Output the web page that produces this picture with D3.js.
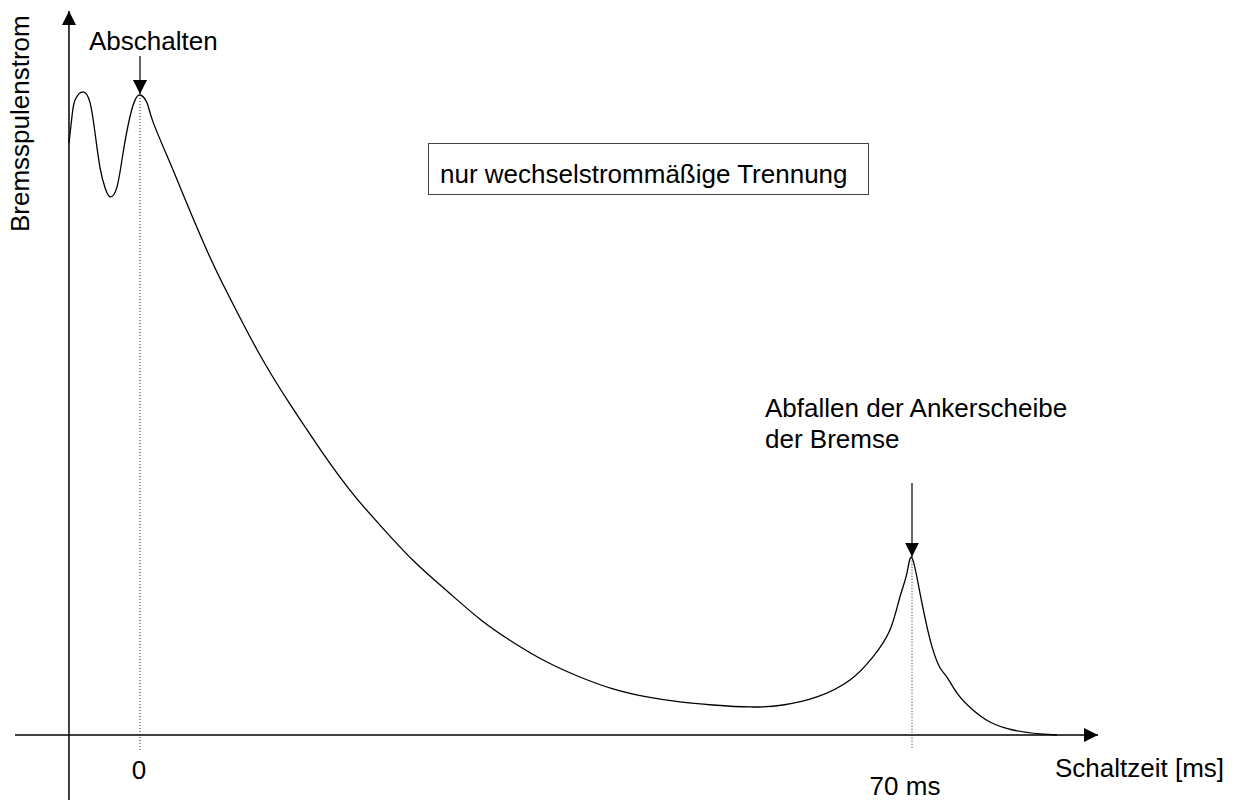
<!DOCTYPE html>
<html>
<head>
<meta charset="utf-8">
<script src="https://cdn.jsdelivr.net/npm/d3@7"></script>
<style>
  html, body { margin: 0; padding: 0; background: #fff; }
  svg { display: block; }
  text { font-family: "Liberation Sans", Arial, sans-serif; font-size: 26px; fill: #000; }
</style>
</head>
<body>
<svg id="chart" width="1234" height="800"></svg>
<script>
// ---- data ----
const timeMs = [-6.44, -6.17, -5.89, -5.17, -4.53, -4.08, -3.63, -3.17, -2.72, -2.09, -1.54, -0.91, -0.45, 0,
  0.63, 1.18, 2.72, 4.08, 6.07, 7.53, 9.07, 10.61, 12.06, 13.60, 15.14, 16.59, 18.13, 19.77, 21.76, 24.75,
  27.84, 30.83, 33.82, 36.90, 39.89, 42.89, 45.97, 48.96, 51.95, 55.31, 58.30, 61.38, 64.38, 66.46, 68.00,
  68.91, 69.54, 70, 70.72, 71.36, 71.90, 72.54, 73.17, 74.08, 75.53, 77.07, 79.15, 81.60, 83.14];
const current = [92.5, 96.6, 99.2, 100.5, 98.8, 94.1, 88.7, 85.5, 84.1, 85.6, 90.9, 96.6, 99.2, 100,
  98.8, 95.8, 89.4, 83.75, 75.7, 70.4, 65.2, 60.2, 55.9, 51.7, 47.7, 44.0, 40.3, 36.7, 32.8, 27.3,
  22.5, 18.1, 14.5, 11.4, 9.06, 7.19, 5.94, 5.16, 4.69, 4.38, 4.69, 5.94, 8.59, 12.2, 16.4,
  21.6, 25.3, 27.7, 22.2, 16.9, 13.3, 10.5, 9.06, 6.56, 3.91, 2.03, 0.78, 0.16, 0];
const tickValues = [0, 70];
const tickLabels = ["0", "70 ms"];
const xAxisTitle = "Schaltzeit [ms]";
const yAxisTitle = "Bremsspulenstrom";
const boxLabel = "nur wechselstrommäßige Trennung";
const markerTimes = [0, 70];
const markerLabels = [["Abschalten"], ["Abfallen der Ankerscheibe", "der Bremse"]];

// ---- layout ----
const svg = d3.select("#chart");
const x = d3.scaleLinear().domain([0, 70]).range([140, 912]);
const y = d3.scaleLinear().domain([0, 100]).range([735, 95]);
const points = timeMs.map((t, i) => ({ t, v: current[i] }));
const valueAt = t => points[timeMs.indexOf(t)].v;

svg.append("defs").append("marker")
  .attr("id", "ah").attr("viewBox", "0 0 10 10").attr("refX", 10).attr("refY", 5)
  .attr("markerWidth", 14).attr("markerHeight", 14).attr("markerUnits", "userSpaceOnUse")
  .attr("orient", "auto")
  .append("path").attr("d", "M0,0 L10,5 L0,10 Z").attr("fill", "#000");

// axes (with arrow heads)
const y0 = y(0), xLeft = x(timeMs[0]);
svg.append("line").attr("x1", 15).attr("y1", y0).attr("x2", 1098).attr("y2", y0)
  .attr("stroke", "#000").attr("stroke-width", 1.5).attr("marker-end", "url(#ah)");
svg.append("line").attr("x1", xLeft).attr("y1", 800).attr("x2", xLeft).attr("y2", 11)
  .attr("stroke", "#000").attr("stroke-width", 1.5).attr("marker-end", "url(#ah)");

// dotted guide lines
const guideBottom = [750, 748];
markerTimes.forEach((t, i) => {
  svg.append("line").attr("x1", x(t)).attr("x2", x(t))
    .attr("y1", y(valueAt(t))).attr("y2", guideBottom[i])
    .attr("stroke", "#222").attr("stroke-width", 1).attr("stroke-dasharray", "1,2");
});

// curve
const line = d3.line().x(d => x(d.t)).y(d => y(d.v)).curve(d3.curveNatural);
svg.append("path").datum(points).attr("d", line)
  .attr("fill", "none").attr("stroke", "#000").attr("stroke-width", 1.3);

// tick labels
const tickBaselines = [779, 795];
const tickDx = [-1, -7];
tickValues.forEach((v, i) => {
  svg.append("text").attr("x", x(v) + tickDx[i]).attr("y", tickBaselines[i])
    .attr("text-anchor", "middle").text(tickLabels[i]);
});

// axis titles
svg.append("text").attr("x", 1055).attr("y", 777).text(xAxisTitle);
svg.append("text").attr("transform", "translate(29,232) rotate(-90)").text(yAxisTitle);

// annotation arrows
const arrowTop = [56, 483];
markerTimes.forEach((t, i) => {
  svg.append("line").attr("x1", x(t)).attr("x2", x(t))
    .attr("y1", arrowTop[i]).attr("y2", y(valueAt(t)) - 1)
    .attr("stroke", "#000").attr("stroke-width", 1.2).attr("marker-end", "url(#ah)");
});

// annotation labels
const labelPos = [[89, 50], [765, 417]];
markerLabels.forEach((lines, i) => {
  const tx = svg.append("text").attr("x", labelPos[i][0]).attr("y", labelPos[i][1]);
  lines.forEach((s, j) => tx.append("tspan").attr("x", labelPos[i][0]).attr("dy", j ? 31 : 0).text(s));
});

// boxed label
svg.append("rect").attr("x", 428.5).attr("y", 143.5).attr("width", 440).attr("height", 51)
  .attr("fill", "none").attr("stroke", "#444").attr("stroke-width", 1);
svg.append("text").attr("x", 440).attr("y", 183).text(boxLabel);
</script>
</body>
</html>
